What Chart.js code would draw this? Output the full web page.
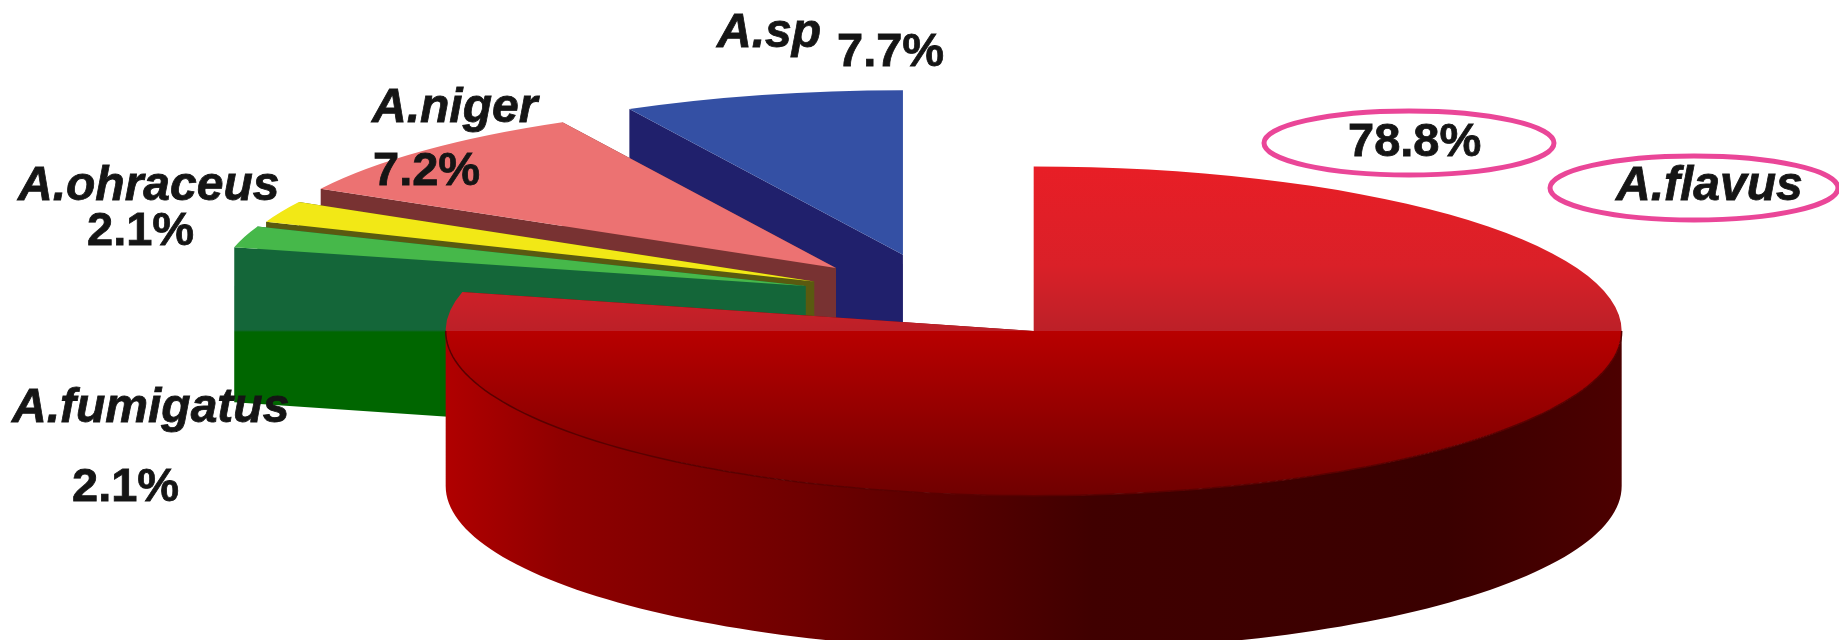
<!DOCTYPE html>
<html>
<head>
<meta charset="utf-8">
<title>Aspergillus species</title>
<script src="https://cdn.jsdelivr.net/npm/chart.js@4"></script>
<style>
    html, body { margin: 0; padding: 0; background: #fff; overflow: hidden; }
    #wrap { width: 1839px; height: 640px; overflow: hidden; }
    canvas { display: block; }
</style>
</head>
<body>
<div id="wrap"><canvas id="pie" width="1839" height="640"></canvas></div>
<script>
// Data
const species = ['A.flavus', 'A.fumigatus', 'A.ohraceus', 'A.niger', 'A.sp'];
const percentLabels = ['78.8%', '2.1%', '2.1%', '7.2%', '7.7%'];
// Slice sizes as drawn in the picture: the A.niger wedge measures about 9.3%, not its printed 7.2%
const sliceSizes = [78.8, 2.1, 2.1, 9.3, 7.7];

// Look of the slices
const topColors = ['#c02028', '#46b84a', '#f2e816', '#ec7272', '#3450a4'];
const wallUpper = ['#7a0000', '#146639', '#5a5a10', '#783232', '#20206c'];
const wallLower = ['#7a0000', '#006600', '#5a5a10', '#783232', '#20206c'];
const explode = [150, 142, 140, 150, 159];
const paintOrder = [4, 3, 2, 1, 0];

// Pie shape
const RADIUS = 588;
const TILT = 0.28;
const DEPTH = 155;

// Text positions [x, baseline] for name and percent
const nameAnchors = [[1616, 200], [12, 422], [18, 200], [372, 122], [717, 47]];
const percentAnchors = [[1348, 156], [72, 501], [87, 245], [373, 185], [837, 66]];
const rings = [[1409, 143, 145, 32], [1694, 188, 144, 32]];

function rimPoint(arc, i, angle) {
    const mid = (arc.startAngle + arc.endAngle) / 2;
    const ox = arc.x + explode[i] * Math.cos(mid);
    const oy = arc.y + explode[i] * Math.sin(mid) * TILT;
    if (angle === null) return [ox, oy];
    return [ox + RADIUS * Math.cos(angle), oy + RADIUS * Math.sin(angle) * TILT];
}

function drawRadialWall(ctx, arc, i, angle, fill) {
    const apex = rimPoint(arc, i, null);
    const rim = rimPoint(arc, i, angle);
    ctx.fillStyle = fill;
    ctx.beginPath();
    ctx.moveTo(apex[0], apex[1]);
    ctx.lineTo(rim[0], rim[1]);
    ctx.lineTo(rim[0], rim[1] + DEPTH);
    ctx.lineTo(apex[0], apex[1] + DEPTH);
    ctx.closePath();
    ctx.fill();
}

// Front of the big slice, only the part that faces the viewer
function frontPoints(arc, i) {
    const pts = [];
    const from = Math.max(arc.startAngle, 0);
    const to = Math.min(arc.endAngle, Math.PI);
    for (let k = 0; k <= 120; k++) {
        pts.push(rimPoint(arc, i, from + (to - from) * k / 120));
    }
    return pts;
}

function drawFrontWall(ctx, arc, i) {
    const pts = frontPoints(arc, i);
    const grad = ctx.createLinearGradient(pts[pts.length - 1][0], 0, pts[0][0], 0);
    grad.addColorStop(0, '#b00000');
    grad.addColorStop(0.1, '#8f0000');
    grad.addColorStop(0.3, '#700000');
    grad.addColorStop(0.55, '#400000');
    grad.addColorStop(0.85, '#3a0000');
    grad.addColorStop(1, '#4c0000');
    ctx.fillStyle = grad;
    ctx.beginPath();
    pts.forEach((p, n) => n ? ctx.lineTo(p[0], p[1]) : ctx.moveTo(p[0], p[1]));
    pts.slice().reverse().forEach(p => ctx.lineTo(p[0], p[1] + DEPTH));
    ctx.closePath();
    ctx.fill();
    return pts;
}

const pie3d = {
    id: 'pie3d',
    beforeDatasetDraw(chart, args) {
        const ctx = chart.ctx;
        const arcs = chart.getDatasetMeta(args.index).data;
        const breakY = rimPoint(arcs[0], 0, null)[1];

        paintOrder.forEach(i => {
            const arc = arcs[i];
            const wall = ctx.createLinearGradient(0, breakY - 1, 0, breakY + 1);
            wall.addColorStop(0, wallUpper[i]);
            wall.addColorStop(1, wallLower[i]);
            drawRadialWall(ctx, arc, i, arc.endAngle, wall);
            drawRadialWall(ctx, arc, i, arc.startAngle, wall);
            const front = i === 0 ? drawFrontWall(ctx, arc, i) : null;

            // the top face is the library's own arc, squashed and pushed out
            const apex = rimPoint(arc, i, null);
            ctx.save();
            ctx.translate(apex[0], apex[1]);
            ctx.scale(1, TILT);
            ctx.translate(-arc.x, -arc.y);
            arc.draw(ctx);
            ctx.restore();

            if (front) {
                ctx.strokeStyle = '#5a0000';
                ctx.lineWidth = 1.5;
                ctx.beginPath();
                front.forEach((p, n) => n ? ctx.lineTo(p[0], p[1]) : ctx.moveTo(p[0], p[1]));
                ctx.stroke();
            }
        });
        return false;
    },
    afterDatasetsDraw(chart) {
        const ctx = chart.ctx;
        ctx.save();
        ctx.strokeStyle = '#ea4698';
        ctx.lineWidth = 5;
        rings.forEach(r => {
            ctx.beginPath();
            ctx.ellipse(r[0], r[1], r[2], r[3], 0, 0, Math.PI * 2);
            ctx.stroke();
        });
        ctx.fillStyle = '#151515';
        ctx.strokeStyle = '#151515';
        ctx.lineWidth = 0.8;
        ctx.textBaseline = 'alphabetic';
        species.forEach((name, i) => {
            ctx.font = 'italic bold 48px "Liberation Sans"';
            ctx.fillText(name, nameAnchors[i][0], nameAnchors[i][1]);
            ctx.strokeText(name, nameAnchors[i][0], nameAnchors[i][1]);
            ctx.font = 'bold 47px "Liberation Sans"';
            ctx.fillText(percentLabels[i], percentAnchors[i][0], percentAnchors[i][1]);
            ctx.strokeText(percentLabels[i], percentAnchors[i][0], percentAnchors[i][1]);
        });
        ctx.restore();
    }
};

new Chart(document.getElementById('pie'), {
    type: 'pie',
    data: {
        labels: species,
        datasets: [{
            data: sliceSizes,
            borderWidth: 0,
            backgroundColor: function(c) {
                if (c.dataIndex !== 0 || !c.chart.chartArea) return topColors[c.dataIndex];
                // local space of the squashed arc, so the gradient spans the full circle
                const area = c.chart.chartArea;
                const cy = (area.top + area.bottom) / 2;
                const g = c.chart.ctx.createLinearGradient(0, cy - RADIUS, 0, cy + RADIUS);
                g.addColorStop(0, '#e81e26');
                g.addColorStop(0.3, '#da2028');
                g.addColorStop(0.5, '#bc2028');
                g.addColorStop(0.5, '#b80000');
                g.addColorStop(1, '#700000');
                return g;
            }
        }]
    },
    options: {
        responsive: false,
        animation: false,
        radius: RADIUS,
        layout: { padding: { left: 43, bottom: 44 } },
        events: [],
        plugins: { legend: { display: false }, tooltip: { enabled: false } }
    },
    plugins: [pie3d]
});
</script>
</body>
</html>
